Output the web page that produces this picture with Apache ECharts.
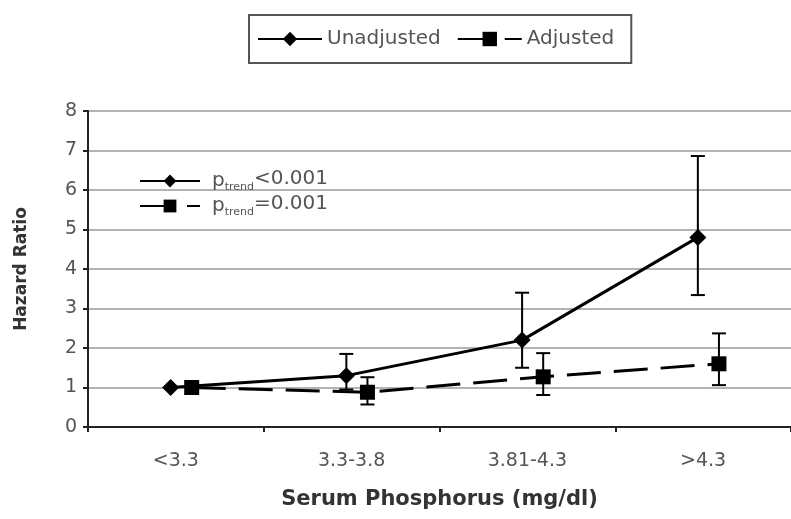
<!DOCTYPE html>
<html><head><meta charset="utf-8">
<script src="https://cdn.jsdelivr.net/npm/echarts@6/dist/echarts.min.js"></script>
<style>html,body{margin:0;padding:0;background:#fff}#c{width:791px;height:519px}</style>
</head><body><div id="c"></div>
<script>
const categories = ['<3.3', '3.3-3.8', '3.81-4.3', '>4.3'];
const unadjusted = [1.0, 1.3, 2.2, 4.8];
const unadjLow = [null, 0.95, 1.5, 3.34];
const unadjHigh = [null, 1.85, 3.4, 6.86];
const adjusted = [1.0, 0.88, 1.27, 1.6];
const adjLow = [null, 0.57, 0.81, 1.06];
const adjHigh = [null, 1.26, 1.87, 2.37];
const yTicks = [0, 1, 2, 3, 4, 5, 6, 7, 8];
const seriesNames = ['Unadjusted', 'Adjusted'];
const trendLabels = {Unadjusted: '<0.001', Adjusted: '=0.001'};

const dodge = {Unadjusted: -0.03, Adjusted: 0.09};
const FONT = 'DejaVu Sans, sans-serif';
const TXT = '#555';

function pts(vals, name) { return vals.map((v, i) => [i + dodge[name], v]); }
function errData(low, high, name) {
  const out = [];
  low.forEach((l, i) => { if (l != null) out.push([i + dodge[name], l, high[i]]); });
  return out;
}
function errRender(params, api) {
  const x = api.value(0);
  const lo = api.coord([x, api.value(1)]);
  const hi = api.coord([x, api.value(2)]);
  const w = 7;
  const st = {stroke: '#000', lineWidth: 2};
  return {type: 'group', children: [
    {type: 'line', shape: {x1: lo[0], y1: lo[1], x2: hi[0], y2: hi[1]}, style: st},
    {type: 'line', shape: {x1: lo[0]-w, y1: lo[1], x2: lo[0]+w, y2: lo[1]}, style: st},
    {type: 'line', shape: {x1: hi[0]-w, y1: hi[1], x2: hi[0]+w, y2: hi[1]}, style: st}
  ]};
}

const chart = echarts.init(document.getElementById('c'), null, {renderer: 'canvas'});
chart.setOption({
  animation: false,
  backgroundColor: '#fff',
  textStyle: {fontFamily: FONT},
  grid: {left: 88, right: 0, top: 111, bottom: 92},
  legend: [{
    data: seriesNames,
    left: 249, top: 15,
    orient: 'horizontal',
    padding: [14, 17, 14, 8],
    borderColor: '#555', borderWidth: 2,
    itemWidth: 64, itemHeight: 18, itemGap: 16,
    textStyle: {fontSize: 20, color: TXT, fontFamily: FONT}
  }, {
    data: seriesNames,
    left: 134, top: 164,
    orient: 'vertical',
    itemWidth: 60, itemHeight: 16, itemGap: 1,
    formatter: n => '{p|p}{s|trend}{v|' + trendLabels[n] + '}',
    textStyle: {
      color: TXT, fontFamily: FONT,
      rich: {
        p: {fontSize: 20, color: TXT, fontFamily: FONT, padding: [0, 0, 0, 7]},
        s: {fontSize: 11, color: TXT, fontFamily: FONT, verticalAlign: 'bottom', padding: [8, 0, 0, 0]},
        v: {fontSize: 20, color: TXT, fontFamily: FONT, padding: [0, 0, 4, 0]}
      }
    }
  }],
  xAxis: [{
    type: 'category', data: categories, boundaryGap: true,
    name: 'Serum Phosphorus (mg/dl)', nameLocation: 'middle', nameGap: 62,
    nameTextStyle: {fontSize: 21, fontWeight: 'bold', color: '#333', fontFamily: FONT},
    axisLine: {lineStyle: {color: '#222', width: 2}},
    axisTick: {show: true, length: 5, lineStyle: {color: '#222', width: 2}},
    axisLabel: {fontSize: 19, color: TXT, margin: 25, fontFamily: FONT},
    splitLine: {show: false}
  }, {
    type: 'value', min: -0.5, max: 3.5, show: false
  }],
  yAxis: {
    type: 'value', min: 0, max: 8, interval: 1,
    name: 'Hazard Ratio', nameLocation: 'middle', nameGap: 58,
    nameTextStyle: {fontSize: 17, fontWeight: 'bold', color: '#333', fontFamily: FONT},
    axisLine: {show: true, onZero: false, lineStyle: {color: '#222', width: 2}},
    axisTick: {show: true, length: 5, lineStyle: {color: '#222', width: 2}},
    axisLabel: {fontSize: 19, color: TXT, margin: 11, fontFamily: FONT,
      formatter: v => yTicks.includes(v) ? String(v) : ''},
    splitLine: {show: true, lineStyle: {color: '#9a9a9a', width: 1.5}}
  },
  series: [{
    name: 'Unadjusted', type: 'line', xAxisIndex: 1,
    data: pts(unadjusted, 'Unadjusted'),
    symbol: 'diamond', symbolSize: 17,
    itemStyle: {color: '#000'},
    lineStyle: {color: '#000', width: 3, type: 'solid'},
    z: 3
  }, {
    name: 'Adjusted', type: 'line', xAxisIndex: 1,
    data: pts(adjusted, 'Adjusted'),
    symbol: 'rect', symbolSize: 15,
    itemStyle: {color: '#000'},
    lineStyle: {color: '#000', width: 3, type: [34, 13]},
    z: 3
  }, {
    type: 'custom', xAxisIndex: 1, renderItem: errRender,
    data: errData(unadjLow, unadjHigh, 'Unadjusted'), z: 2, silent: true,
    encode: {x: 0, y: [1, 2]}
  }, {
    type: 'custom', xAxisIndex: 1, renderItem: errRender,
    data: errData(adjLow, adjHigh, 'Adjusted'), z: 2, silent: true,
    encode: {x: 0, y: [1, 2]}
  }]
});
</script></body></html>
